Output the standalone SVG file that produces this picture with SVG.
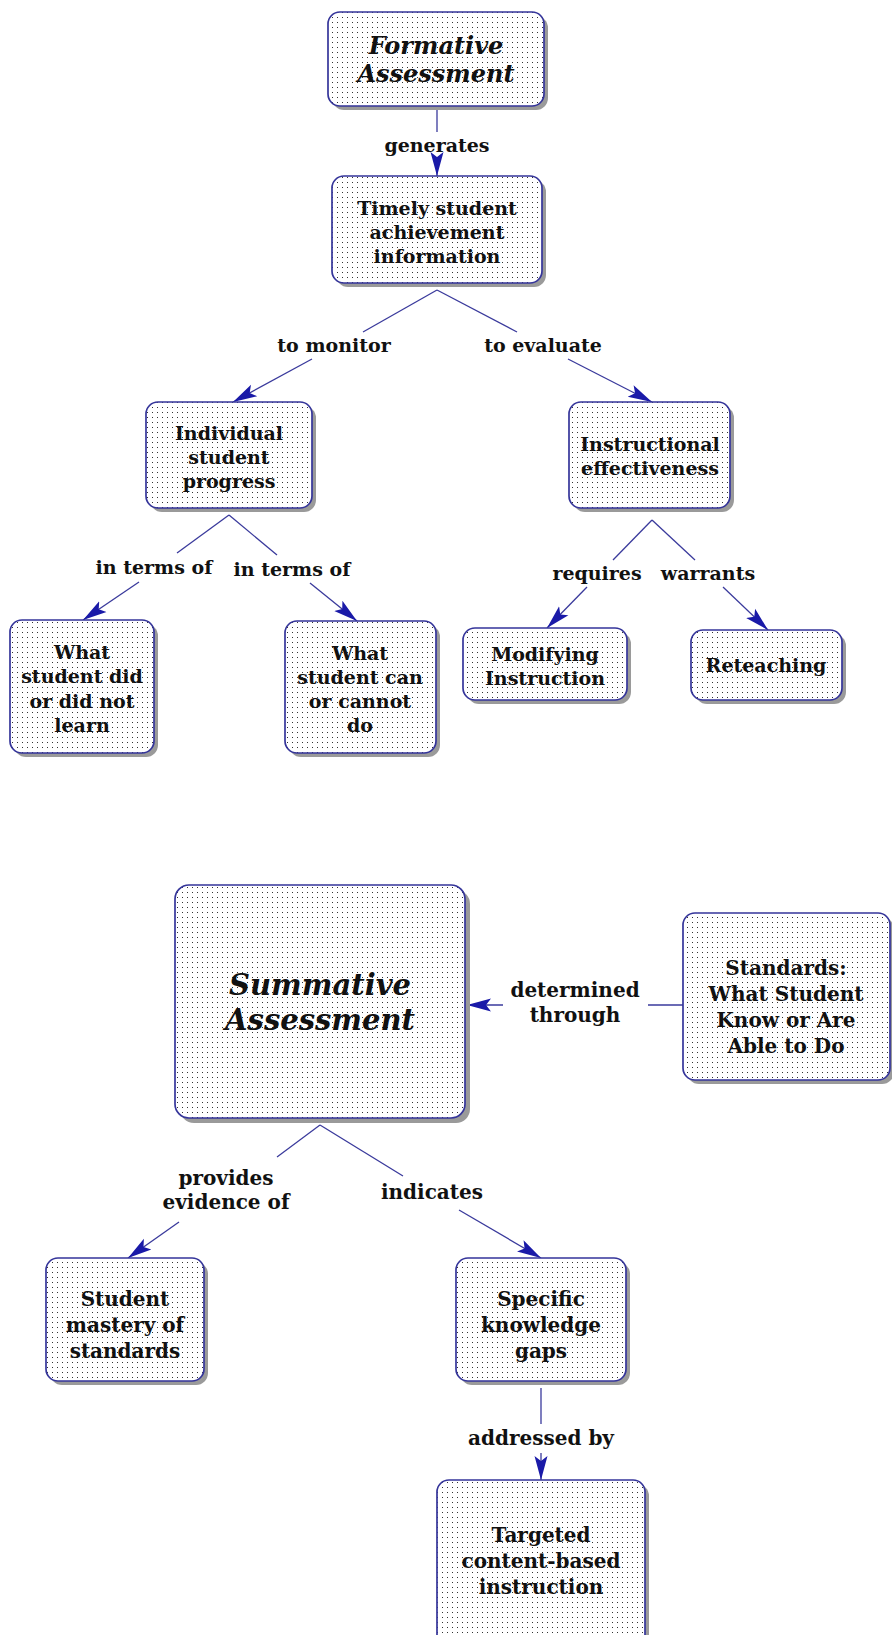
<svg xmlns="http://www.w3.org/2000/svg" width="892" height="1635" viewBox="0 0 892 1635">
<defs>
<pattern id="dots" width="5" height="5" patternUnits="userSpaceOnUse">
<rect width="5" height="5" fill="#ffffff"/>
<rect x="2" y="2" width="1" height="1" fill="#333"/>
</pattern>
<marker id="arr" markerUnits="userSpaceOnUse" markerWidth="26" markerHeight="16" refX="24" refY="8" orient="auto">
<path d="M0,1.5 L24,8 L0,14.5 L5,8 z" fill="#1a1aa8"/>
</marker>
</defs>
<style>
.shadow{fill:#9a9a9a}
.box{fill:url(#dots);stroke:#35359a;stroke-width:1.7}
.t{font-family:"DejaVu Serif","Liberation Serif",serif;font-weight:bold;font-size:19px;fill:#111;text-anchor:middle}
.big{font-style:italic;font-size:24px}
.huge{font-style:italic;font-size:29px}
.b{font-size:20px}
.c{stroke:#3a3a9c;stroke-width:1.3;fill:none}
.ca{marker-end:url(#arr)}
</style>
<rect width="892" height="1635" fill="#ffffff"/>

<g id="connectors">
<line class="c" x1="437" y1="106" x2="437" y2="132"/>
<text class="t" x="437" y="152">generates</text>
<line class="c ca" x1="437" y1="158" x2="437" y2="176"/>

<line class="c" x1="437" y1="290" x2="363" y2="332"/>
<text class="t" x="334" y="352">to monitor</text>
<line class="c ca" x1="312" y1="359" x2="233" y2="402"/>
<line class="c" x1="437" y1="290" x2="517" y2="332"/>
<text class="t" x="543" y="352">to evaluate</text>
<line class="c ca" x1="568" y1="359" x2="652" y2="402"/>

<line class="c" x1="229" y1="515" x2="177" y2="553"/>
<text class="t" x="154" y="574">in terms of</text>
<line class="c ca" x1="139" y1="582" x2="83" y2="620"/>
<line class="c" x1="229" y1="515" x2="277" y2="555"/>
<text class="t" x="292" y="576">in terms of</text>
<line class="c ca" x1="310" y1="583" x2="357" y2="621"/>

<line class="c" x1="652" y1="520" x2="613" y2="560"/>
<text class="t" x="597" y="580">requires</text>
<line class="c ca" x1="587" y1="587" x2="547" y2="628"/>
<line class="c" x1="652" y1="520" x2="695" y2="560"/>
<text class="t" x="708" y="580">warrants</text>
<line class="c ca" x1="723" y1="587" x2="768" y2="630"/>

<line class="c" x1="683" y1="1005" x2="648" y2="1005"/>
<text class="t b" x="575" y="997">determined</text>
<text class="t b" x="575" y="1022">through</text>
<line class="c ca" x1="503" y1="1005" x2="467" y2="1005"/>

<line class="c" x1="320" y1="1125" x2="277" y2="1157"/>
<text class="t b" x="226" y="1185">provides</text>
<text class="t b" x="226" y="1209">evidence of</text>
<line class="c ca" x1="179" y1="1222" x2="128" y2="1258"/>
<line class="c" x1="320" y1="1125" x2="403" y2="1176"/>
<text class="t b" x="432" y="1199">indicates</text>
<line class="c ca" x1="459" y1="1210" x2="541" y2="1258"/>

<line class="c" x1="541" y1="1388" x2="541" y2="1424"/>
<text class="t b" x="541" y="1445">addressed by</text>
<line class="c ca" x1="541" y1="1453" x2="541" y2="1480"/>
</g>

<g id="n-formative">
<rect class="shadow" x="332" y="16" width="216" height="94" rx="12"/>
<rect class="box" x="328" y="12" width="216" height="94" rx="12"/>
<text class="t big" x="436" y="54">Formative</text>
<text class="t big" x="436" y="82">Assessment</text>
</g>
<g id="n-timely">
<rect class="shadow" x="336" y="180" width="210" height="107" rx="12"/>
<rect class="box" x="332" y="176" width="210" height="107" rx="12"/>
<text class="t" x="437" y="215">Timely student</text>
<text class="t" x="437" y="239">achievement</text>
<text class="t" x="437" y="263">information</text>
</g>
<g id="n-individual">
<rect class="shadow" x="150" y="406" width="166" height="106" rx="12"/>
<rect class="box" x="146" y="402" width="166" height="106" rx="12"/>
<text class="t" x="229" y="440">Individual</text>
<text class="t" x="229" y="464">student</text>
<text class="t" x="229" y="488">progress</text>
</g>
<g id="n-instructional">
<rect class="shadow" x="573" y="406" width="161" height="106" rx="12"/>
<rect class="box" x="569" y="402" width="161" height="106" rx="12"/>
<text class="t" x="650" y="451">Instructional</text>
<text class="t" x="650" y="475">effectiveness</text>
</g>
<g id="n-did">
<rect class="shadow" x="14" y="624" width="144" height="133" rx="12"/>
<rect class="box" x="10" y="620" width="144" height="133" rx="12"/>
<text class="t" x="82" y="659">What</text>
<text class="t" x="82" y="683">student did</text>
<text class="t" x="82" y="708">or did not</text>
<text class="t" x="82" y="732">learn</text>
</g>
<g id="n-can">
<rect class="shadow" x="289" y="625" width="151" height="132" rx="12"/>
<rect class="box" x="285" y="621" width="151" height="132" rx="12"/>
<text class="t" x="360" y="660">What</text>
<text class="t" x="360" y="684">student can</text>
<text class="t" x="360" y="708">or cannot</text>
<text class="t" x="360" y="732">do</text>
</g>
<g id="n-modifying">
<rect class="shadow" x="467" y="632" width="164" height="72" rx="12"/>
<rect class="box" x="463" y="628" width="164" height="72" rx="12"/>
<text class="t" x="545" y="661">Modifying</text>
<text class="t" x="545" y="685">Instruction</text>
</g>
<g id="n-reteaching">
<rect class="shadow" x="695" y="634" width="151" height="70" rx="12"/>
<rect class="box" x="691" y="630" width="151" height="70" rx="12"/>
<text class="t" x="766" y="672">Reteaching</text>
</g>

<g id="n-summative">
<rect class="shadow" x="180" y="890" width="290" height="233" rx="14"/>
<rect class="box" x="175" y="885" width="290" height="233" rx="14"/>
<text class="t huge" x="320" y="995">Summative</text>
<text class="t huge" x="320" y="1030">Assessment</text>
</g>
<g id="n-standards">
<rect class="shadow" x="687" y="917" width="207" height="167" rx="12"/>
<rect class="box" x="683" y="913" width="207" height="167" rx="12"/>
<text class="t b" x="786" y="975">Standards:</text>
<text class="t b" x="786" y="1001">What Student</text>
<text class="t b" x="786" y="1027">Know or Are</text>
<text class="t b" x="786" y="1053">Able to Do</text>
</g>
<g id="n-mastery">
<rect class="shadow" x="50" y="1262" width="158" height="123" rx="12"/>
<rect class="box" x="46" y="1258" width="158" height="123" rx="12"/>
<text class="t b" x="125" y="1306">Student</text>
<text class="t b" x="125" y="1332">mastery of</text>
<text class="t b" x="125" y="1358">standards</text>
</g>
<g id="n-specific">
<rect class="shadow" x="460" y="1262" width="170" height="123" rx="12"/>
<rect class="box" x="456" y="1258" width="170" height="123" rx="12"/>
<text class="t b" x="541" y="1306">Specific</text>
<text class="t b" x="541" y="1332">knowledge</text>
<text class="t b" x="541" y="1358">gaps</text>
</g>
<g id="n-targeted">
<rect class="shadow" x="441" y="1484" width="208" height="170" rx="12"/>
<rect class="box" x="437" y="1480" width="208" height="170" rx="12"/>
<text class="t b" x="541" y="1542">Targeted</text>
<text class="t b" x="541" y="1568">content-based</text>
<text class="t b" x="541" y="1594">instruction</text>
</g>
</svg>
